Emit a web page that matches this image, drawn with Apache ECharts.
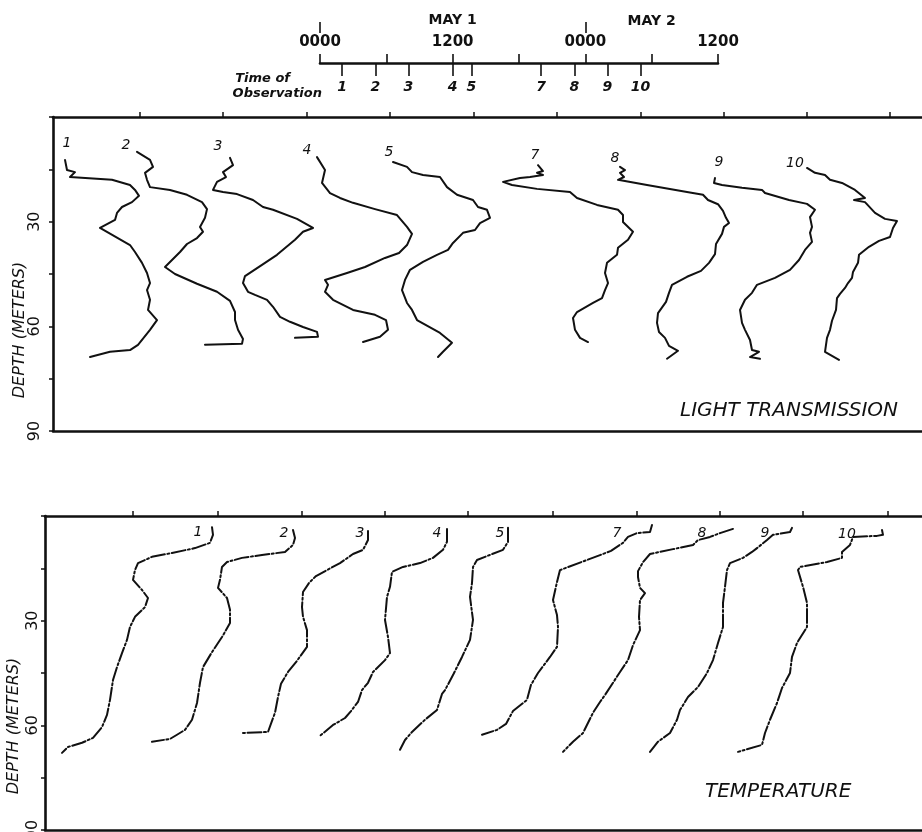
<!DOCTYPE html>
<html><head><meta charset="utf-8">
<script src="https://cdn.jsdelivr.net/npm/echarts@6/dist/echarts.min.js"></script>
<style>html,body{margin:0;padding:0;background:#fff}#c{width:922px;height:832px}</style>
</head><body><div id="c"></div>
<script>
// ---------- DATA ----------
const profileNames = ['1','2','3','4','5','7','8','9','10'];
const obsHours = [2, 5, 8, 12, 13.7, 20, 23, 26, 29];
const hourTickValues = [0, 12, 24, 36];
const hourTickLabels = ['0000', '1200', '0000', '1200'];
const dayMarkHours = [0, 24];
const dayLabels = ['MAY 1', 'MAY 2'];
const dayLabelHours = [12, 30];
const depthLabels = [30, 60, 90];
const lightFrameTicks = [8.7, 17.0, 25.4, 33.7, 42.1, 50.4, 58.8, 67.1, 75.4, 83.7];
const tempFrameTicks = [8.8, 17.3, 25.7, 34.0, 42.3, 50.8, 59.2, 67.5, 75.8, 84.3];

// light transmission profiles: [relative transmission (offset units), depth m]
const light1 = [[1.2,12.3],[1.4,15.2],[2.2,15.8],[1.7,17.2],[5.9,18.0],[7.7,19.5],[8.2,20.9],[8.6,22.6],[7.9,24.4],[6.9,25.8],[6.4,27.5],[6.2,29.5],[4.7,31.8],[7.7,36.7],[8.2,38.7],[8.9,41.8],[9.4,44.7],[9.7,47.6],[9.4,49.6],[9.7,52.4],[9.5,55.3],[10.4,58.2],[9.7,61.0],[8.5,65.3],[7.7,66.8],[5.7,67.3],[3.7,68.8]];
const light2 = [[8.4,10.0],[9.7,12.3],[10.0,14.3],[9.2,16.0],[9.4,18.0],[9.7,20.1],[11.7,20.9],[13.4,22.3],[14.9,24.4],[15.4,26.4],[15.2,28.9],[14.7,31.5],[15.0,32.9],[14.4,34.7],[13.4,36.4],[12.7,38.7],[11.2,43.0],[12.2,45.0],[14.4,47.8],[16.4,50.1],[17.7,52.7],[18.2,55.9],[18.2,58.2],[18.5,61.0],[19.0,63.6],[18.9,65.0],[15.2,65.3]];
const light3 = [[17.7,11.7],[18.0,13.8],[17.0,15.8],[17.3,17.2],[16.4,18.6],[16.0,20.9],[17.0,21.5],[18.4,22.1],[20.0,23.8],[21.0,25.8],[22.0,26.6],[24.4,29.2],[26.0,31.8],[25.0,32.9],[24.2,35.2],[22.4,39.5],[20.9,42.4],[19.2,45.6],[19.0,47.6],[19.5,50.1],[20.2,51.0],[21.4,52.4],[22.0,54.4],[22.7,57.3],[23.7,58.7],[25.0,60.2],[26.4,61.6],[26.5,63.0],[24.2,63.3]];
const light4 = [[26.4,11.5],[27.2,15.2],[26.9,18.9],[27.7,21.8],[28.7,23.2],[30.0,24.6],[32.2,26.4],[34.4,28.1],[35.4,31.5],[35.9,33.5],[35.4,36.7],[34.6,39.0],[33.2,40.4],[31.2,43.0],[29.4,44.7],[27.2,46.7],[27.5,48.1],[27.2,50.1],[28.0,52.4],[30.0,55.3],[32.2,56.7],[33.3,58.2],[33.5,61.0],[32.7,63.0],[31.0,64.5]];
const light5 = [[34.0,12.9],[35.4,14.3],[35.9,15.8],[37.0,16.6],[38.7,17.2],[39.4,20.1],[40.4,22.3],[42.0,23.8],[42.5,25.8],[43.4,26.6],[43.7,28.9],[42.7,30.4],[42.2,32.4],[41.0,33.2],[40.0,36.1],[39.5,38.1],[38.4,39.5],[37.0,41.5],[35.7,43.8],[35.2,46.7],[34.9,49.6],[35.4,53.3],[35.9,55.3],[36.4,58.2],[38.7,61.9],[39.9,64.7],[39.0,67.3],[38.5,68.8]];
const light7 = [[48.5,13.8],[49.0,15.5],[48.4,16.0],[49.0,16.6],[47.7,17.2],[46.7,17.5],[45.0,18.6],[45.9,19.5],[48.4,20.6],[51.7,21.5],[52.4,23.2],[54.4,25.2],[56.5,26.6],[57.0,28.1],[57.0,30.1],[58.0,32.9],[57.5,35.2],[56.5,37.5],[56.4,39.5],[55.4,41.8],[55.2,44.7],[55.5,47.6],[55.2,49.6],[54.9,51.9],[54.0,53.3],[52.4,55.9],[52.0,57.6],[52.2,61.0],[52.7,63.3],[53.5,64.5]];
const light8 = [[56.7,14.3],[57.2,15.2],[56.7,16.0],[57.1,17.2],[56.5,18.0],[59.4,19.5],[63.4,21.5],[65.0,22.3],[65.5,23.8],[66.5,25.0],[67.0,26.9],[67.3,28.9],[67.6,30.4],[67.1,31.5],[66.9,33.5],[66.3,36.4],[66.2,39.3],[65.6,41.8],[64.8,44.1],[63.4,45.8],[61.9,48.1],[61.6,50.4],[61.3,53.0],[60.5,56.2],[60.4,59.0],[60.6,61.6],[61.2,63.3],[61.6,65.6],[62.5,67.0],[61.4,69.3]];
const light9 = [[66.2,17.5],[66.1,18.9],[66.9,19.5],[68.9,20.3],[70.9,20.9],[71.2,21.8],[73.6,23.8],[75.4,24.9],[76.2,26.6],[75.7,28.7],[75.9,31.5],[75.7,33.2],[75.9,35.8],[75.2,38.1],[74.6,41.0],[73.7,43.8],[72.2,46.1],[70.4,48.1],[69.9,50.4],[69.2,52.4],[68.7,55.3],[68.9,59.0],[69.2,61.0],[69.7,63.9],[69.9,66.8],[70.6,67.3],[69.7,68.8],[70.7,69.3]];
const light10 = [[75.4,14.6],[76.2,16.0],[77.2,16.6],[77.7,18.0],[78.9,18.9],[80.2,20.9],[81.2,23.2],[80.1,23.8],[81.2,24.4],[82.2,27.5],[83.2,29.2],[84.4,29.8],[84.0,31.8],[83.7,34.4],[82.6,35.5],[81.6,37.2],[80.6,39.5],[80.5,41.8],[80.0,44.4],[79.9,46.1],[79.5,47.6],[79.2,49.0],[78.7,50.7],[78.4,51.9],[78.3,55.3],[77.9,58.4],[77.7,61.0],[77.4,63.3],[77.2,67.3],[78.6,69.6]];

// temperature profiles: [relative temperature (offset units), depth m]
const temp1 = [[16.7,3.2],[16.8,5.4],[16.5,7.7],[15.0,9.2],[12.7,10.6],[10.7,11.7],[9.3,13.5],[9.0,15.5],[8.8,18.3],[9.7,21.2],[10.3,23.5],[10.0,26.1],[9.0,28.9],[8.5,31.8],[8.2,35.5],[7.7,39.3],[7.2,43.3],[6.8,47.0],[6.5,52.7],[6.2,57.0],[5.7,60.5],[4.8,63.6],[3.7,65.0],[2.3,66.2],[1.7,67.9]];
const temp2 = [[24.8,4.0],[25.0,6.3],[24.8,8.3],[24.0,10.3],[21.7,11.2],[19.7,12.0],[18.2,13.2],[17.7,14.6],[17.5,18.3],[17.3,20.6],[18.2,23.5],[18.5,26.9],[18.5,30.7],[17.7,34.7],[16.7,39.0],[15.8,43.3],[15.5,47.8],[15.2,53.6],[14.7,58.4],[14.0,61.3],[13.2,62.7],[12.5,63.9],[10.7,64.7]];
const temp3 = [[32.3,4.3],[32.3,6.9],[31.8,9.7],[30.8,10.9],[29.5,13.5],[28.2,15.5],[27.1,17.2],[26.4,19.2],[25.8,21.8],[25.7,26.1],[25.8,28.9],[26.2,32.7],[26.2,37.5],[25.2,41.5],[24.3,44.7],[23.6,48.1],[23.3,51.9],[23.0,56.4],[22.7,58.7],[22.3,61.9],[19.7,62.2]];
const temp4 = [[40.2,3.7],[40.2,7.4],[39.8,9.7],[38.8,12.0],[37.5,13.5],[35.8,14.6],[34.7,16.0],[34.5,20.3],[34.2,23.2],[34.0,29.8],[34.3,34.7],[34.5,39.3],[34.0,41.3],[32.8,44.7],[32.3,47.8],[31.7,49.9],[31.3,53.3],[30.6,55.9],[30.0,57.9],[28.8,59.9],[27.5,63.0]];
const temp5 = [[46.3,3.4],[46.3,7.4],[45.8,9.7],[43.2,12.6],[42.8,14.6],[42.7,19.2],[42.5,23.2],[42.8,29.8],[42.5,35.5],[41.7,40.4],[40.8,45.6],[40.0,49.9],[39.7,51.0],[39.2,55.6],[38.0,58.4],[36.7,61.9],[36.0,64.2],[35.5,67.0]];
const temp7 = [[60.7,2.6],[60.5,4.6],[59.2,4.9],[58.3,6.0],[57.8,7.7],[56.6,10.0],[55.5,11.2],[54.2,12.6],[51.5,15.5],[51.2,18.9],[50.8,24.1],[51.2,28.4],[51.3,31.8],[51.2,37.5],[50.5,40.4],[49.3,45.0],[48.6,48.4],[48.2,52.7],[46.8,55.9],[46.1,59.6],[45.2,61.3],[43.7,62.7]];
const temp8 = [[68.8,3.7],[67.5,4.9],[66.5,6.0],[65.3,6.9],[64.8,8.3],[62.8,9.5],[60.5,10.9],[59.8,13.2],[59.3,15.8],[59.3,17.5],[59.5,20.6],[60.0,22.1],[59.5,24.1],[59.4,28.9],[59.5,32.7],[58.8,37.0],[58.3,41.3],[57.5,44.7],[56.8,47.8],[56.0,51.3],[55.5,53.3],[54.8,56.4],[53.8,62.2],[52.8,64.7],[51.8,67.6]];
const temp9 = [[74.7,3.4],[74.5,4.6],[72.8,5.4],[72.2,6.9],[71.2,9.2],[70.7,10.3],[69.8,12.0],[68.5,13.5],[68.2,15.5],[68.0,20.3],[67.8,24.9],[67.8,31.8],[67.3,36.4],[66.8,41.3],[66.2,45.0],[65.3,49.0],[64.3,51.9],[63.5,55.6],[63.2,58.4],[62.5,62.2],[61.3,64.7],[60.5,67.6]];
const temp10 = [[83.7,4.0],[83.8,5.4],[83.2,5.7],[80.8,6.0],[80.5,8.3],[79.7,10.3],[79.7,12.0],[78.2,13.2],[75.5,14.6],[75.3,15.5],[75.8,20.3],[76.2,24.9],[76.2,31.8],[75.2,36.4],[74.7,40.4],[74.5,45.0],[73.7,49.3],[73.2,53.6],[72.5,58.4],[72.0,62.2],[71.7,65.6],[69.3,67.6]];

// ---------- STYLE / LAYOUT ----------
const FONT = 'DejaVu Sans';
const lightLabelOffsets = [[2,-17],[-11,-7],[-12,-11],[-10,-7],[-4,-10],[-3,-10],[-5,-9],[4,-16],[-12,-5]];
const tempLabelOffsets = [[-14,5],[-9,3],[-8,2],[-10,4],[-8,5],[-35,8],[-31,4],[-27,5],[-35,4]];
const lightProfiles = [light1, light2, light3, light4, light5, light7, light8, light9, light10];
const tempProfiles = [temp1, temp2, temp3, temp4, temp5, temp7, temp8, temp9, temp10];
const black = '#111';

function profileSeries(data, name, xIdx, yIdx, dash, offset) {
  return {
    type: 'line', name: name, xAxisIndex: xIdx, yAxisIndex: yIdx,
    data: data.map((p, i) => i === 0
      ? { value: p, label: { show: true, formatter: name, position: 'inside', offset: offset } }
      : p),
    showSymbol: true, symbol: 'circle', symbolSize: 0,
    lineStyle: { color: black, width: 2, type: dash, cap: 'round', join: 'round' },
    itemStyle: { color: black },
    label: { show: false, color: black, fontFamily: FONT, fontStyle: 'italic', fontSize: 14 },
    silent: true, animation: false, z: 3
  };
}

const series = [];
lightProfiles.forEach((d, i) => series.push(profileSeries(d, profileNames[i], 3, 1, 'solid', lightLabelOffsets[i])));
tempProfiles.forEach((d, i) => series.push(profileSeries(d, profileNames[i], 5, 2, [14, 2.5, 2, 2.5], tempLabelOffsets[i])));

const frameLine = { show: true, onZero: false, lineStyle: { color: black, width: 2.6 } };
const depthAxis = (gridIndex, margin) => ({
  type: 'value', gridIndex: gridIndex, inverse: true, min: 0, max: 90, interval: 15,
  axisLine: frameLine,
  axisTick: { show: true, inside: false, length: 4, lineStyle: { color: black, width: 1.5 } },
  axisLabel: {
    rotate: 90, margin: margin, color: black, fontFamily: FONT, fontSize: 16,
    formatter: v => depthLabels.indexOf(v) >= 0 ? String(v) : ''
  },
  splitLine: { show: false }
});
const frameTop = (gridIndex, max, ticks) => ({
  type: 'value', gridIndex: gridIndex, position: 'top', min: 0, max: max,
  axisLine: frameLine,
  axisTick: { show: true, inside: false, length: 5, customValues: ticks, lineStyle: { color: black, width: 1.5 } },
  axisLabel: { show: false }, splitLine: { show: false }
});
const frameBottom = (gridIndex, max) => ({
  type: 'value', gridIndex: gridIndex, position: 'bottom', min: 0, max: max,
  axisLine: frameLine, axisTick: { show: false }, axisLabel: { show: false }, splitLine: { show: false }
});

const option = {
  backgroundColor: '#fff',
  animation: false,
  grid: [
    { left: 320, top: 63, width: 398, height: 1, outerBoundsMode: 'none', containLabel: false },
    { left: 53, top: 117, width: 869, height: 314, outerBoundsMode: 'none', containLabel: false },
    { left: 45, top: 516, width: 877, height: 314, outerBoundsMode: 'none', containLabel: false }
  ],
  xAxis: [
    { // time axis: hours from 0000 May 1
      type: 'value', gridIndex: 0, position: 'top', min: 0, max: 36, interval: 6,
      axisLine: { show: true, onZero: false, lineStyle: { color: black, width: 2.6 } },
      axisTick: { show: true, inside: false, length: 9, lineStyle: { color: black, width: 1.6 } },
      axisLabel: {
        margin: 13, color: black, fontFamily: FONT, fontWeight: 'bold', fontSize: 15,
        formatter: v => { const k = hourTickValues.indexOf(v); return k >= 0 ? hourTickLabels[k] : ''; }
      },
      splitLine: { show: false }
    },
    { // day boundary marks above the hour labels
      type: 'value', gridIndex: 0, position: 'top', offset: 30, min: 0, max: 36,
      axisLine: { show: false, onZero: false },
      axisTick: { show: true, inside: false, length: 11, customValues: dayMarkHours, lineStyle: { color: black, width: 1.6 } },
      axisLabel: { show: false }, splitLine: { show: false }
    },
    { // times of observation
      type: 'value', gridIndex: 0, position: 'bottom', min: 0, max: 36,
      axisLine: { show: false, onZero: false },
      axisTick: { show: true, inside: false, length: 12, customValues: obsHours, lineStyle: { color: black, width: 1.6 } },
      axisLabel: {
        customValues: obsHours, margin: 16, color: black, fontFamily: FONT, fontStyle: 'italic', fontWeight: 'bold', fontSize: 14,
        formatter: v => { let best = 0; obsHours.forEach((h, k) => { if (Math.abs(h - v) < Math.abs(obsHours[best] - v)) best = k; }); return profileNames[best]; }
      },
      splitLine: { show: false }
    },
    frameTop(1, 86.9, lightFrameTicks),
    frameBottom(1, 86.9),
    frameTop(2, 87.7, tempFrameTicks),
    frameBottom(2, 87.7)
  ],
  yAxis: [
    { type: 'value', gridIndex: 0, min: 0, max: 1, show: false },
    depthAxis(1, 10),
    depthAxis(2, 4)
  ],
  series: series
};

const chart = echarts.init(document.getElementById('c'), null, { renderer: 'canvas' });
chart.setOption(option);

const dayX = dayLabelHours.map(h => chart.convertToPixel({ xAxisIndex: 0 }, h));
const txt = (text, x, y, font, align, rot) => ({
  type: 'text', x: x, y: y, rotation: rot || 0, silent: true,
  style: { text: text, fill: black, font: font, align: align || 'left', verticalAlign: 'middle' }
});
chart.setOption({
  graphic: [
    txt(dayLabels[0], dayX[0], 20, 'bold 14px "' + FONT + '"', 'center'),
    txt(dayLabels[1], dayX[1], 21, 'bold 14px "' + FONT + '"', 'center'),
    txt('Time of', 290, 79, 'italic bold 13px "' + FONT + '"', 'right'),
    txt('Observation', 322, 94, 'italic bold 13px "' + FONT + '"', 'right'),
    txt('LIGHT TRANSMISSION', 680, 411, 'italic 20px "' + FONT + '"', 'left'),
    txt('TEMPERATURE', 705, 792, 'italic 20px "' + FONT + '"', 'left'),
    txt('DEPTH (METERS)', 20, 330, 'italic 16px "' + FONT + '"', 'center', Math.PI / 2),
    txt('DEPTH (METERS)', 14, 726, 'italic 16px "' + FONT + '"', 'center', Math.PI / 2)
  ]
});
</script>
</body></html>
